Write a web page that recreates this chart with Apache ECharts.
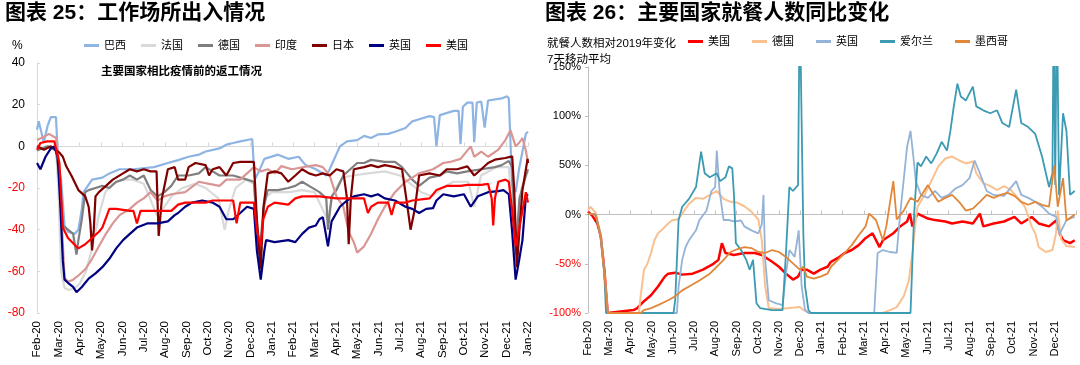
<!DOCTYPE html>
<html><head><meta charset="utf-8">
<script src="https://cdn.jsdelivr.net/npm/echarts/dist/echarts.min.js"></script>
<style>html,body{margin:0;padding:0;background:#fff}#c{width:1080px;height:365px}</style>
</head><body><div id="c"></div>
<script>
// x = months after the first tick label (Feb-20 = 0)
const leftTickLabels = ['Feb-20','Mar-20','Apr-20','May-20','Jun-20','Jul-20','Aug-20','Sep-20','Oct-20','Nov-20','Dec-20','Jan-21','Feb-21','Mar-21','Apr-21','May-21','Jun-21','Jul-21','Aug-21','Sep-21','Oct-21','Nov-21','Dec-21','Jan-22'];
const rightTickLabels = ['Feb-20','Mar-20','Apr-20','May-20','Jun-20','Jul-20','Aug-20','Sep-20','Oct-20','Nov-20','Dec-20','Jan-21','Feb-21','Mar-21','Apr-21','May-21','Jun-21','Jul-21','Aug-21','Sep-21','Oct-21','Nov-21','Dec-21'];

const workBrazil = [[0,8],[0.08,12],[0.32,2],[0.5,10],[0.65,14],[0.89,14],[1.0,-10],[1.13,-16],[1.29,-38],[1.45,-41],[1.77,-42],[1.94,-40],[2.1,-30],[2.18,-22],[2.58,-16],[3.06,-15],[3.39,-13],[3.87,-11],[4.52,-11],[5.48,-10],[6.13,-8],[6.61,-6.6],[7.1,-5],[7.58,-4],[7.9,-2.5],[8.55,-1],[8.87,0.8],[9.19,1.6],[9.52,2.4],[10.08,3.5],[10.2,-16],[10.4,-12],[10.65,-6],[11.29,-4],[11.77,-6],[12.26,-5],[12.58,-9],[13.06,-11],[13.55,-14],[13.71,-11],[14.19,0],[14.52,2.4],[15.0,3],[15.32,5],[15.65,4],[15.97,5.7],[16.45,6],[16.77,7],[17.26,8.8],[17.58,12],[17.9,13],[18.39,14.5],[18.6,14],[18.71,0],[18.87,15],[19.52,17],[19.75,17],[19.84,1],[19.95,19],[20.16,21],[20.4,21],[20.48,2],[20.6,21],[20.81,21.5],[20.97,9],[21.13,22],[21.77,23],[22.02,24],[22.1,23],[22.26,-19.5],[22.42,-22],[22.58,-11],[22.9,6],[23,7]];
const workFrance = [[0,-2],[0.4,0],[0.89,-1],[1.0,-20],[1.13,-60],[1.29,-68],[1.5,-69],[1.77,-68],[2.0,-66],[2.3,-60],[2.6,-48],[2.9,-33],[3.2,-22],[3.55,-18],[4.0,-16],[4.5,-16],[5.0,-18],[5.3,-25],[5.6,-33],[5.9,-30],[6.3,-24],[6.8,-20],[7.4,-18],[7.9,-20],[8.5,-25],[8.79,-40],[9.0,-30],[9.3,-20],[9.8,-16],[10.16,-18],[10.4,-55],[10.65,-25],[11.0,-22],[11.8,-22],[12.4,-21],[13.0,-22],[13.6,-35],[13.9,-22],[14.3,-15],[14.8,-14],[15.5,-13],[16.3,-12],[17.0,-14],[17.5,-18],[18.0,-22],[18.5,-24],[19.0,-20],[19.5,-17],[20.2,-17],[20.48,-29],[20.8,-14],[21.5,-10],[22.1,-10],[22.42,-55],[22.7,-20],[23,-12]];
const workGermany = [[0,-2],[0.5,0],[0.89,-2],[1.05,-15],[1.21,-38],[1.45,-40],[1.69,-42],[1.85,-52],[1.94,-45],[2.1,-35],[2.26,-22],[2.42,-21],[2.74,-20],[3.06,-19],[3.39,-20],[3.71,-17],[4.03,-16],[4.35,-14],[4.68,-16],[5.0,-14],[5.32,-21],[5.65,-24],[5.97,-22],[6.29,-19],[6.61,-14],[7.1,-14],[7.58,-13],[7.9,-10],[8.23,-12],[8.55,-14],[9.19,-14],[9.84,-16],[10.16,-17],[10.4,-52],[10.65,-28],[10.81,-21],[11.29,-21],[11.77,-20],[12.1,-19],[12.42,-17],[12.74,-19],[13.23,-22],[13.55,-25],[13.63,-40],[13.8,-24],[14.03,-21],[14.35,-14],[15.0,-8],[15.32,-8],[15.65,-6.5],[16.29,-7.5],[16.77,-7.5],[17.1,-10],[17.58,-16],[17.9,-19],[18.39,-15],[18.87,-14],[19.19,-12],[19.68,-13],[20.16,-12],[20.81,-11],[21.45,-10],[21.77,-9],[22.1,-7],[22.26,-10],[22.42,-52],[22.6,-25],[22.9,-14],[23,-11]];
const workIndia = [[0,3],[0.4,5],[0.56,6],[0.89,4],[1.0,-5],[1.13,-30],[1.29,-63],[1.45,-65],[1.69,-64],[1.94,-62],[2.26,-59],[2.58,-54],[2.9,-48],[3.23,-42],[3.55,-37],[3.87,-33],[4.35,-30],[4.68,-27],[5.0,-25],[5.32,-22],[5.65,-26],[5.97,-24],[6.29,-23],[6.94,-22],[7.58,-17],[8.06,-18],[8.55,-19],[8.87,-16],[9.52,-16],[9.84,-13],[10.16,-10],[10.48,-12],[10.81,-11],[11.13,-13],[11.45,-9.5],[11.94,-11],[12.74,-9.5],[13.06,-9],[13.39,-10],[13.71,-14],[14.03,-24],[14.35,-29],[14.6,-41],[14.84,-46],[15.0,-51],[15.32,-48],[15.65,-42],[15.97,-35],[16.29,-29],[16.77,-22],[17.26,-17],[17.58,-15],[17.9,-13],[18.55,-11],[19.03,-8],[19.35,-7.5],[19.84,-6],[20.32,0],[20.48,-5],[20.81,-2.5],[21.13,-5],[21.61,-1.6],[21.94,3],[22.18,7.7],[22.42,0],[22.58,1.6],[22.74,4],[22.9,-2],[23,-8]];
const workJapan = [[0,0],[0.32,-1.6],[0.65,0],[1.05,-3],[1.21,-5],[1.37,-9.6],[1.61,-14],[1.94,-21],[2.26,-24],[2.42,-29],[2.5,-37],[2.58,-50],[2.66,-40],[2.74,-24],[2.9,-22],[3.23,-19],[3.55,-16],[4.03,-13],[4.35,-11],[4.68,-12],[5.0,-11],[5.32,-12],[5.6,-12],[5.7,-43],[5.85,-25],[6.13,-11],[6.45,-10],[6.61,-16],[6.94,-16],[7.1,-10],[7.42,-8],[7.9,-9],[8.06,-14],[8.23,-11],[8.55,-10],[8.87,-14],[9.19,-8],[9.52,-7.5],[10.16,-7.5],[10.3,-35],[10.48,-59],[10.6,-30],[10.81,-13],[11.13,-12],[11.45,-13],[11.77,-17],[12.1,-14],[12.42,-11],[12.74,-13],[13.06,-14],[13.39,-13],[13.71,-14],[14.03,-11],[14.35,-12],[14.52,-25],[14.6,-47],[14.7,-25],[14.84,-11],[15.32,-10],[15.65,-9],[15.97,-10],[16.29,-9],[16.77,-10],[17.1,-11],[17.34,-28],[17.5,-40],[17.7,-30],[17.9,-14],[18.39,-13],[18.87,-14],[19.19,-11],[19.68,-11],[20.16,-9.6],[20.48,-14],[20.81,-11],[21.13,-8],[21.45,-6.4],[21.94,-5.6],[22.26,-4.8],[22.35,-20],[22.48,-58],[22.6,-40],[22.74,-21],[22.98,-6],[23,-8]];
const workUK = [[0,-8],[0.16,-11],[0.4,-5],[0.65,-1],[0.81,0],[0.97,-5],[1.1,-30],[1.21,-55],[1.29,-64],[1.45,-65.5],[1.69,-67.5],[1.85,-70],[2.1,-67.5],[2.42,-63.5],[2.74,-61],[3.06,-58],[3.39,-54],[3.71,-49],[4.03,-45],[4.35,-42],[4.68,-39],[5.16,-37],[5.65,-37],[6.13,-36],[6.45,-33],[6.61,-32],[6.94,-29],[7.26,-27],[7.74,-26],[8.23,-27],[8.55,-29],[8.87,-35],[9.19,-35],[9.52,-32],[9.84,-29],[10.16,-30],[10.3,-50],[10.48,-64],[10.65,-50],[10.73,-45],[11.13,-46],[11.77,-45],[12.1,-46],[12.42,-42],[12.74,-39],[13.06,-38],[13.23,-35],[13.39,-34],[13.63,-48],[13.8,-36],[14.19,-29],[14.52,-26],[14.84,-24],[15.32,-23],[15.65,-24],[15.97,-23],[16.29,-25],[16.77,-26],[17.26,-29],[17.58,-30],[17.9,-32],[18.23,-30],[18.55,-29.7],[18.71,-26],[19.03,-23],[19.52,-24],[20.0,-23],[20.32,-29],[20.65,-24],[21.13,-22],[21.61,-21.5],[21.85,-21],[22.1,-23],[22.25,-40],[22.42,-64],[22.58,-55],[22.74,-45],[22.9,-24],[23,-23]];
const workUS = [[0,-1.6],[0.16,1.6],[0.48,2.4],[0.81,2.4],[1.05,-8],[1.21,-39],[1.45,-44],[1.94,-49],[2.26,-47],[2.58,-44],[2.9,-41],[3.06,-39],[3.39,-30],[3.71,-30],[4.35,-31],[4.52,-31],[4.68,-37],[4.85,-31],[5.48,-31],[6.29,-31],[6.61,-28],[6.94,-27],[7.9,-27],[8.23,-26],[9.19,-26],[9.35,-37],[9.52,-27],[10.16,-27],[10.3,-40],[10.48,-48],[10.6,-35],[10.81,-29],[11.13,-27],[11.77,-28],[12.1,-25],[12.42,-24],[13.23,-24],[14.03,-25],[14.84,-25],[15.32,-25],[15.5,-32],[15.65,-29],[15.97,-27],[16.45,-27],[16.61,-33],[16.77,-27],[17.26,-27],[17.58,-26],[18.39,-25],[18.71,-21],[19.19,-19],[19.84,-19],[20.16,-18.5],[20.81,-18.5],[21.13,-18],[21.3,-25],[21.37,-38],[21.45,-25],[21.61,-17],[21.94,-16],[22.1,-17],[22.25,-30],[22.42,-48],[22.58,-40],[22.9,-22],[23,-27]];

const dineUS = [[0,3],[0.2,-1],[0.44,-9],[0.6,-22],[0.77,-56],[0.93,-100],[2.15,-97],[2.32,-95],[2.64,-88],[2.97,-82],[3.3,-73],[3.62,-63],[3.78,-60],[4.11,-59],[4.44,-61],[4.93,-60],[5.42,-56],[5.91,-50],[6.15,-46],[6.31,-29],[6.48,-39],[6.88,-41],[7.37,-39],[7.86,-39],[8.19,-41],[8.68,-48],[9.0,-53],[9.33,-60],[9.66,-66],[9.9,-63],[10.07,-56],[10.31,-56],[10.64,-60],[10.96,-56],[11.29,-53],[11.45,-48],[11.78,-44],[12.1,-39],[12.43,-36],[12.76,-31],[13.08,-24],[13.41,-19],[13.74,-33],[13.9,-26],[14.39,-19],[14.71,-12],[15.04,-7],[15.17,1],[15.29,-12],[15.53,1],[16.02,-4],[16.35,-5.6],[16.84,-7],[17.16,-9],[17.65,-7],[18.14,-9],[18.47,1],[18.63,-12],[19.12,-9],[19.61,-7],[20.1,-2.4],[20.42,-9],[20.91,-2.4],[21.24,-9],[21.73,-12],[22.06,-6],[22.25,-20],[22.39,-26],[22.72,-29],[22.94,-26]];
const dineGermany = [[0,4],[0.11,8],[0.36,2],[0.6,-20],[0.77,-60],[0.93,-100],[2.4,-100],[2.48,-83],[2.64,-56],[2.8,-50],[2.97,-39],[3.13,-26],[3.3,-19],[3.46,-16],[3.78,-9],[3.95,-6],[4.27,-4.4],[4.44,1],[4.76,11],[5.09,17],[5.42,16],[5.74,20],[6.07,24],[6.39,16],[6.72,13],[7.05,12],[7.37,8.5],[7.7,3],[8.03,-5],[8.19,-26],[8.35,-73],[8.52,-95],[9.0,-96],[9.5,-95],[9.98,-94],[10.15,-97],[10.47,-100],[13.9,-100],[14.23,-97],[14.55,-94],[14.88,-83],[15.12,-67],[15.29,-39],[15.45,-5.5],[15.53,8],[15.86,20],[16.18,34],[16.51,49],[16.84,57],[17.16,59],[17.49,55],[17.81,52],[18.14,54],[18.3,42],[18.63,32],[18.96,29],[19.28,25],[19.61,29],[19.93,25],[20.26,17],[20.59,8],[20.91,-12],[21.08,-19],[21.24,-33],[21.57,-38],[21.89,-36],[22.06,-19],[22.14,4],[22.3,-25],[22.55,-32],[22.94,-33]];
const dineUK = [[0,1],[0.36,0],[0.6,-22],[0.77,-60],[0.93,-100],[4.19,-100],[4.27,-73],[4.44,-46],[4.6,-33],[4.76,-26],[5.09,-16],[5.25,-5.6],[5.58,4],[5.82,24],[5.99,28],[6.07,65],[6.2,24],[6.39,-5.5],[6.64,-5.5],[6.88,-7],[7.21,-6],[7.37,-12],[7.7,-16],[8.03,-19],[8.19,-10],[8.27,20],[8.35,-46],[8.52,-87],[8.84,-90],[9.17,-92],[9.33,-60],[9.49,-36],[9.74,-43],[9.93,-16],[10.07,-73],[10.23,-97],[10.39,-100],[13.49,-100],[13.65,-39],[13.9,-36],[14.23,-38],[14.55,-39],[14.71,0],[15.04,69],[15.2,85],[15.37,52],[15.45,34],[15.69,20],[16.02,17],[16.35,24],[16.67,17],[17.0,20],[17.32,26.5],[17.65,30],[17.98,37],[18.22,55],[18.47,42],[18.79,24],[19.12,20],[19.61,19],[20.18,34],[20.42,20],[20.75,17],[21.08,13],[21.4,8],[21.73,1],[22.06,-2],[22.22,-20],[22.55,-5.6],[22.94,-2]];
const dineIreland = [[0,1],[0.36,0],[0.6,-22],[0.77,-60],[0.85,-100],[4.03,-100],[4.11,-87],[4.27,-5.5],[4.44,8],[4.76,16],[5.09,28],[5.25,52],[5.33,64],[5.5,42],[5.74,38],[6.07,42],[6.23,34],[6.48,38],[6.64,49],[6.8,47],[6.88,20],[6.97,-29],[7.21,-36],[7.46,-46],[7.62,-56],[7.78,-46],[7.94,-90],[8.11,-95],[8.68,-97],[9.17,-97],[9.33,-39],[9.41,-5.6],[9.49,28],[9.66,24],[9.9,30],[9.98,220],[10.07,220],[10.15,-20],[10.23,-73],[10.39,-97],[10.5,-100],[15.2,-100],[15.37,0],[15.53,53],[15.69,49],[15.94,59],[16.18,52],[16.43,62],[16.67,74],[16.92,65],[17.08,85],[17.24,110],[17.41,133],[17.57,120],[17.81,116],[18.14,130],[18.3,110],[18.63,106],[18.96,103],[19.28,106],[19.53,93],[19.85,89],[20.18,127],[20.42,93],[20.75,89],[21.08,82],[21.4,59],[21.73,28],[21.89,42],[21.95,220],[22.02,30],[22.1,220],[22.2,20],[22.39,103],[22.55,85],[22.72,20],[22.94,24]];
const dineMexico = [[0,1],[0.36,0],[0.6,-22],[0.77,-60],[0.93,-100],[2.48,-100],[2.64,-97],[2.97,-95],[3.3,-92],[3.78,-87],[4.11,-83],[4.44,-77],[4.76,-73],[5.25,-67],[5.74,-60],[6.07,-53],[6.39,-46],[6.72,-38],[7.05,-35],[7.37,-33],[7.7,-34],[8.03,-38],[8.35,-39],[8.68,-36],[9.0,-38],[9.33,-43],[9.66,-49.5],[9.98,-56],[10.15,-53],[10.31,-63],[10.64,-65],[10.96,-63],[11.29,-60],[11.45,-53],[11.78,-46],[12.1,-39],[12.43,-31],[12.76,-21],[13.08,-12],[13.25,1],[13.57,-5.5],[13.9,-26],[14.06,-12],[14.39,34],[14.55,-5],[14.88,4],[15.2,17],[15.53,13],[15.69,19],[16.02,30],[16.18,24],[16.51,13],[16.84,17],[17.16,20],[17.49,13],[17.81,4],[18.14,6],[18.47,13],[18.79,20],[19.12,17],[19.44,20],[19.77,22],[20.1,19],[20.42,13],[20.75,10],[21.08,13],[21.4,10],[21.73,8],[21.97,50],[22.14,8],[22.39,37],[22.55,-6],[22.94,0]];

const FONT = 'Arial, "Liberation Sans", "Noto Sans CJK SC", sans-serif';
const chart = echarts.init(document.getElementById('c'), null, {renderer:'canvas'});

function line(name, data, color, width, xi, yi) {
  return {name, type:'line', data, xAxisIndex:xi, yAxisIndex:yi, symbol:'none', showSymbol:false,
    lineStyle:{color, width}, itemStyle:{color}, emphasis:{disabled:true}, animation:false, clip:true};
}
function labelAxis(gi, labels, max, size) {
  return {type:'value', gridIndex:gi, min:0, max, interval:1, position:'bottom',
    axisLine:{show:false, onZero:false}, axisTick:{show:false}, splitLine:{show:false},
    axisLabel:{rotate:90, margin:8, fontSize:size, color:'#000', fontFamily:FONT,
      formatter:v => (Number.isInteger(v) && labels[v] !== undefined) ? labels[v] : ''}};
}
function zeroAxis(gi, max, color) {
  return {type:'value', gridIndex:gi, min:0, max, interval:1, position:'bottom',
    axisLine:{show:true, onZero:true, lineStyle:{color, width:1}},
    axisTick:{show:true, inside:true, length:4, lineStyle:{color}},
    axisLabel:{show:false}, splitLine:{show:false}};
}

chart.setOption({
  backgroundColor:'#fff',
  animation:false,
  title:[
    {text:'图表 25：工作场所出入情况', left:5, top:3, padding:0, textStyle:{fontSize:21, fontWeight:'bold', color:'#000', fontFamily:FONT}},
    {text:'图表 26：主要国家就餐人数同比变化', left:545, top:3, padding:0, textStyle:{fontSize:21, fontWeight:'bold', color:'#000', fontFamily:FONT}},
    {text:'%', left:12, top:40, padding:0, textStyle:{fontSize:12, fontWeight:'normal', color:'#000', fontFamily:FONT}},
    {text:'主要国家相比疫情前的返工情况', left:101, top:66, padding:0, textStyle:{fontSize:11.5, fontWeight:'bold', color:'#000', fontFamily:FONT}},
    {text:'就餐人数相对2019年变化\n7天移动平均', left:547, top:36, padding:0, textStyle:{fontSize:11.5, fontWeight:'normal', lineHeight:16, color:'#000', fontFamily:FONT}}
  ],
  legend:[
    {left:84, top:40, padding:0, itemWidth:15, itemHeight:3, itemGap:15, icon:'rect', selectedMode:false,
     textStyle:{fontSize:11, color:'#000', fontFamily:FONT},
     data:['巴西','法国','德国','印度','日本','英国','美国']},
    {left:688, top:36, padding:0, itemWidth:15, itemHeight:3, itemGap:22, icon:'rect', selectedMode:false,
     textStyle:{fontSize:11, color:'#000', fontFamily:FONT},
     formatter:n => n.replace('R·',''),
     data:['R·美国','R·德国','R·英国','R·爱尔兰','R·墨西哥']}
  ],
  grid:[
    {left:37, top:63, width:491, height:250, containLabel:false, outerBoundsMode:'none'},
    {left:588, top:67, width:488, height:246, containLabel:false, outerBoundsMode:'none'}
  ],
  xAxis:[
    labelAxis(0, leftTickLabels, 23, 11.5),
    zeroAxis(0, 23, '#D9D9D9'),
    labelAxis(1, rightTickLabels, 23, 11),
    zeroAxis(1, 23, '#BFBFBF')
  ],
  yAxis:[
    {type:'value', gridIndex:0, min:-80, max:40, interval:20,
     axisLine:{show:true, onZero:false, lineStyle:{color:'#D9D9D9'}},
     axisTick:{show:true, inside:true, length:3, lineStyle:{color:'#D9D9D9'}},
     splitLine:{show:false},
     axisLabel:{margin:12, fontSize:12, fontFamily:FONT, color:v => (Number(v) < 0 ? '#FF0000' : '#000')}},
    {type:'value', gridIndex:1, min:-100, max:150, interval:50,
     axisLine:{show:true, onZero:false, lineStyle:{color:'#BFBFBF'}},
     axisTick:{show:true, inside:false, length:3, lineStyle:{color:'#BFBFBF'}},
     splitLine:{show:false},
     axisLabel:{margin:7, fontSize:11, fontFamily:FONT, formatter:v => v + '%', color:v => (Number(v) < 0 ? '#FF0000' : '#000')}}
  ],
  series:[
    line('巴西', workBrazil, '#8EB4E3', 2.2, 0, 0),
    line('法国', workFrance, '#D9D9D9', 2.2, 0, 0),
    line('德国', workGermany, '#7F7F7F', 2.2, 0, 0),
    line('印度', workIndia, '#D99694', 2.2, 0, 0),
    line('日本', workJapan, '#800000', 2.2, 0, 0),
    line('英国', workUK, '#000080', 2.2, 0, 0),
    line('美国', workUS, '#FF0000', 2.2, 0, 0),
    line('R·美国', dineUS, '#FF0000', 2.5, 2, 1),
    line('R·德国', dineGermany, '#FAC090', 2, 2, 1),
    line('R·英国', dineUK, '#95B3D7', 1.8, 2, 1),
    line('R·爱尔兰', dineIreland, '#3C9AB2', 1.8, 2, 1),
    line('R·墨西哥', dineMexico, '#E0873A', 1.8, 2, 1)
  ]
});
</script>
</body></html>
